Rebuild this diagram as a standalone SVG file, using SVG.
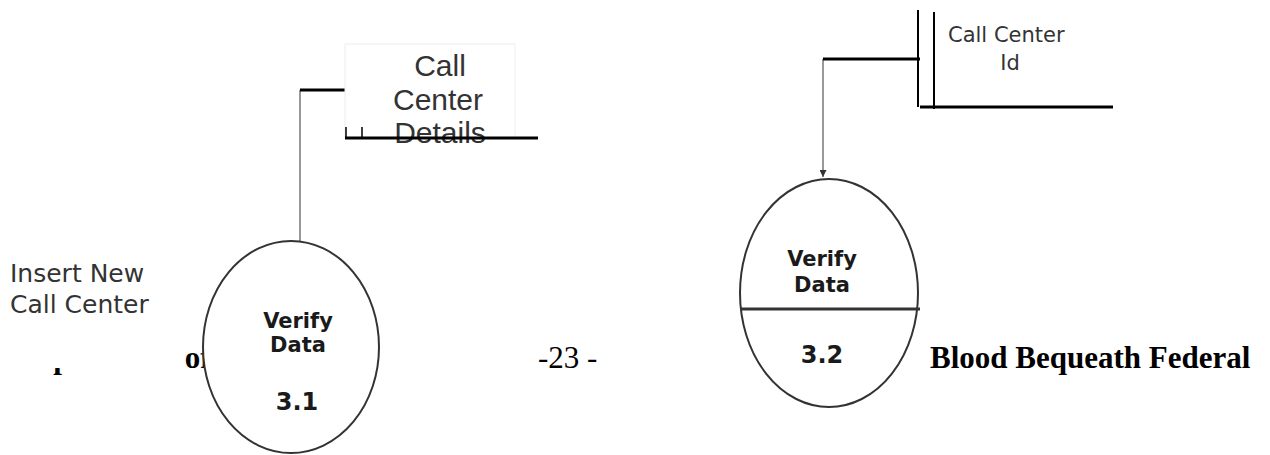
<svg xmlns="http://www.w3.org/2000/svg" width="1270" height="455" viewBox="0 0 1270 455">
<style>
.proc{fill:#fff;stroke:#333;stroke-width:2}
.pl{font-family:"DejaVu Sans",Verdana,sans-serif;font-weight:bold;fill:#1a1a1a;text-anchor:middle}
.lbl{font-family:"DejaVu Sans",Verdana,sans-serif;fill:#333}
.st{font-family:"Liberation Sans",Arial,sans-serif;fill:#333;text-anchor:middle;font-size:30px}
.ft{font-family:"Liberation Serif","Times New Roman",serif;fill:#000;font-size:31px}
.blk{stroke:#000;stroke-width:3;fill:none}
.conn{stroke:#999;stroke-width:2;fill:none}
</style>
<defs>
<marker id="ah" viewBox="0 0 10 10" refX="10" refY="5" markerWidth="12" markerHeight="7" markerUnits="userSpaceOnUse" orient="auto">
<path d="M0,0 L10,5 L0,10 z" fill="#333"/>
</marker>
</defs>
<rect width="1270" height="455" fill="#fff"/>

<!-- footer -->
<g id="footer">
<text class="ft" x="17" y="368" font-weight="bold">Department of</text>
<rect x="0" y="250" width="184" height="118" fill="#fff"/>
<text class="ft" x="538" y="368">-23 -</text>
<text class="ft" x="930" y="368" font-weight="bold">Blood Bequeath Federal</text>
</g>

<g id="label-insert">
<text class="lbl" x="10" y="282" font-size="25">Insert New</text>
<text class="lbl" x="10" y="313" font-size="25">Call Center</text>
</g>

<g id="connectors">
<path class="conn" d="M300,90 V241"/>
<path class="blk" d="M300,90 H346"/>
<path class="conn" d="M823,59 V177" marker-end="url(#ah)"/>
<path class="blk" d="M823,59 H920"/>
</g>

<g id="store-details">
<rect x="345" y="44" width="170" height="94" fill="#fff" stroke="#eee" stroke-width="1"/>
<path d="M346,127 V138 M362,127 V138" stroke="#000" stroke-width="1.5"/>
<text class="st" x="440" y="76">Call</text>
<text class="st" x="438" y="110">Center</text>
<text class="st" x="440" y="143">Details</text>
<path class="blk" d="M345,138 H538"/>
</g>

<g id="store-id">
<path d="M918,10 V107 M934,12 V109" stroke="#000" stroke-width="2"/>
<path class="blk" d="M920,107 H1113"/>
<text class="lbl" x="948" y="42" font-size="21">Call Center</text>
<text class="lbl" x="1010" y="70" font-size="21" text-anchor="middle">Id</text>
</g>

<g id="proc-3-1">
<ellipse class="proc" cx="291" cy="347" rx="88" ry="106"/>
<text class="pl" x="298" y="328" font-size="21">Verify</text>
<text class="pl" x="298" y="352" font-size="21">Data</text>
<text class="pl" x="297" y="410" font-size="24">3.1</text>
</g>

<g id="proc-3-2">
<ellipse class="proc" cx="829" cy="293" rx="89" ry="114"/>
<path d="M740,309 H920" stroke="#333" stroke-width="3"/>
<text class="pl" x="822" y="266" font-size="21">Verify</text>
<text class="pl" x="822" y="292" font-size="21">Data</text>
<text class="pl" x="822" y="363" font-size="24">3.2</text>
</g>
</svg>
